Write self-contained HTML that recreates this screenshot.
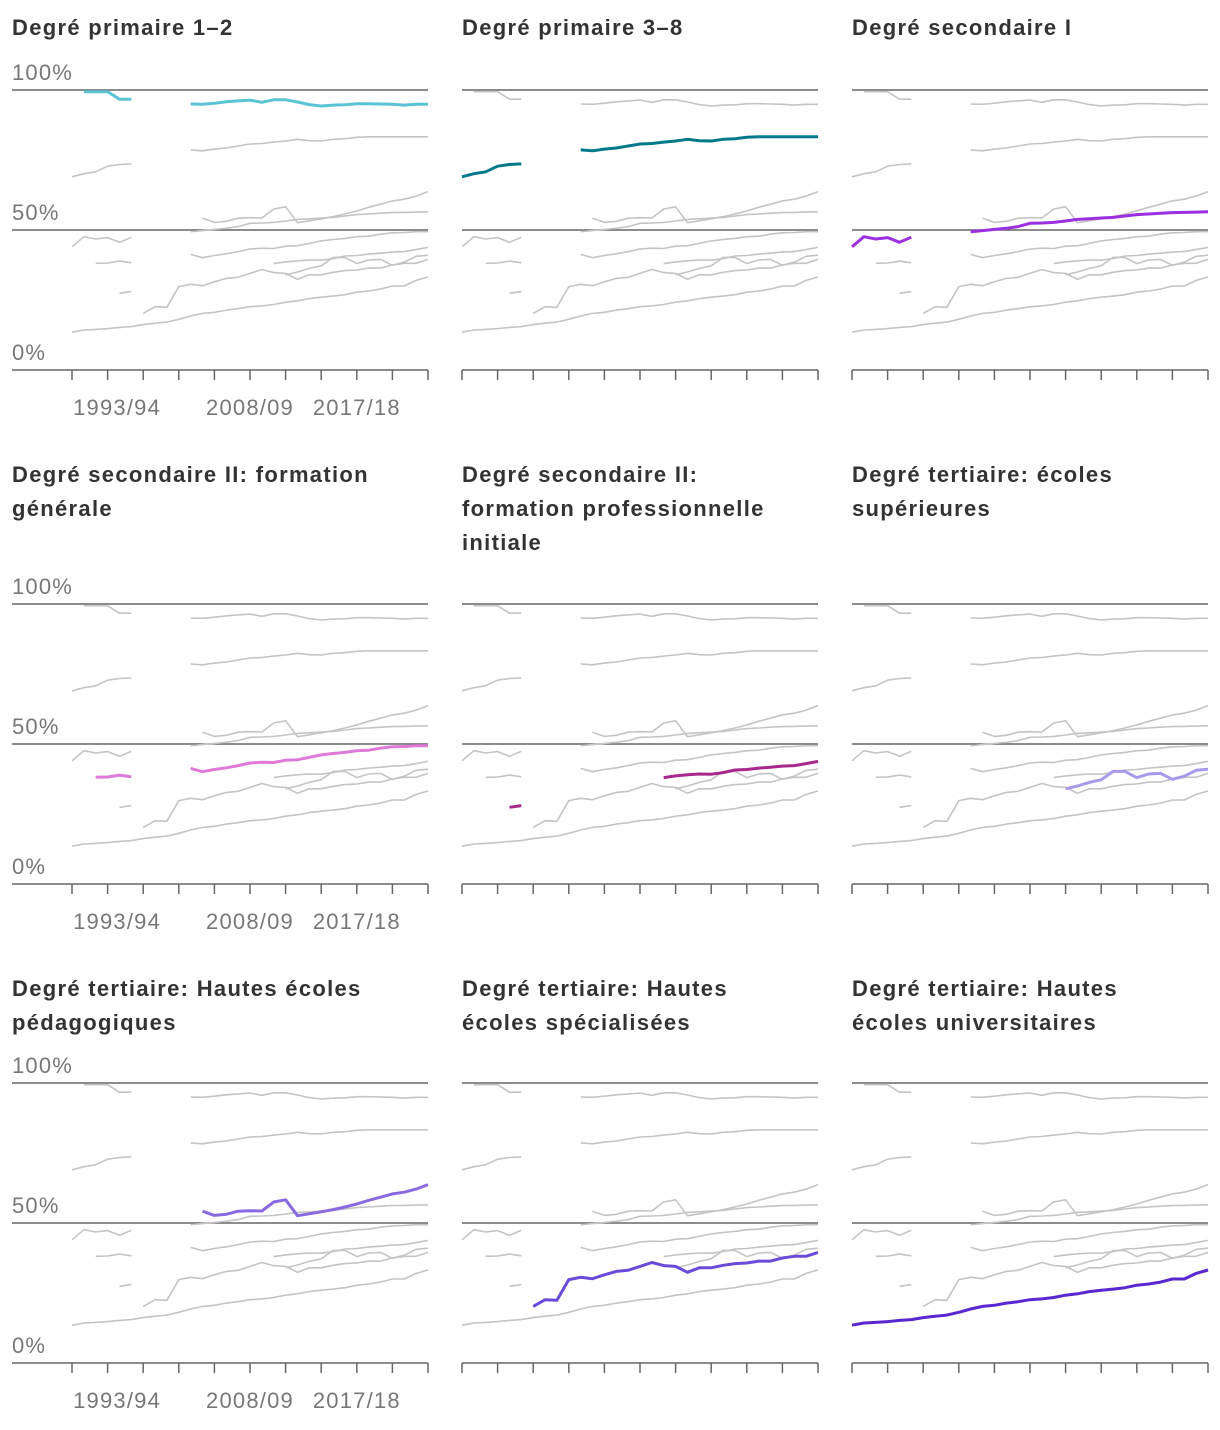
<!DOCTYPE html>
<html><head><meta charset="utf-8"><style>
body{margin:0;background:#fff;width:1220px;height:1430px;overflow:hidden}
svg{display:block}
.t{font-family:"Liberation Sans","DejaVu Sans",sans-serif;font-weight:bold;font-size:22px;letter-spacing:1.3px;fill:#333}
.l{font-family:"Liberation Sans","DejaVu Sans",sans-serif;font-size:22px;letter-spacing:1.2px;fill:#777}
</style></head><body>
<svg id="c" width="1220" height="1430"></svg>
<script>
const N = null;
const years = [1990,1991,1992,1993,1994,1995,1996,1997,1998,1999,2000,2001,2002,2003,2004,2005,2006,2007,2008,2009,2010,2011,2012,2013,2014,2015,2016,2017,2018,2019,2020];
const titles = [["Degré primaire 1–2"],["Degré primaire 3–8"],["Degré secondaire I"],
 ["Degré secondaire II: formation","générale"],["Degré secondaire II:","formation professionnelle","initiale"],["Degré tertiaire: écoles","supérieures"],
 ["Degré tertiaire: Hautes écoles","pédagogiques"],["Degré tertiaire: Hautes","écoles spécialisées"],["Degré tertiaire: Hautes","écoles universitaires"]];
const colors = ["#5bc4d4","#00798a","#9b30e0","#e07ad8","#a8288c","#a89ae8","#8a6ae0","#6a4ad8","#5a28d0"];
const s1 = [N,99.4,99.4,99.4,96.7,96.7,N,N,N,N,95.0,94.9,95.3,95.8,96.1,96.4,95.6,96.5,96.5,95.7,94.8,94.3,94.6,94.7,95.1,95.1,95.0,94.9,94.6,94.9,94.9];
const s2 = [69.0,70.1,70.8,72.8,73.4,73.6,N,N,N,N,78.6,78.3,78.9,79.3,80.0,80.7,80.9,81.4,81.8,82.4,81.9,81.8,82.4,82.6,83.1,83.3,83.3,83.3,83.3,83.3,83.3];
const s3 = [44.0,47.6,46.8,47.3,45.6,47.4,N,N,N,N,49.4,49.8,50.2,50.6,51.2,52.4,52.5,52.7,53.2,53.8,54.0,54.3,54.5,55.0,55.5,55.7,56.0,56.2,56.3,56.4,56.5];
const s4 = [N,N,38.1,38.2,38.9,38.3,N,N,N,N,41.3,40.1,40.9,41.5,42.3,43.2,43.5,43.4,44.2,44.4,45.2,46.1,46.6,47.0,47.6,47.8,48.5,49.0,49.1,49.4,49.4];
const s5 = [N,N,N,N,27.4,28.0,N,N,N,N,N,N,N,N,N,N,N,38.0,38.6,39.0,39.3,39.2,39.8,40.7,40.9,41.4,41.7,42.1,42.3,43.0,43.8];
const s6 = [N,N,N,N,N,N,N,N,N,N,N,N,N,N,N,N,N,N,34.0,35.0,36.3,37.2,40.2,40.2,38.0,39.3,39.5,37.4,38.5,40.6,41.0];
const s7 = [N,N,N,N,N,N,N,N,N,N,N,54.2,52.7,53.1,54.2,54.4,54.3,57.5,58.3,52.6,53.3,54.0,54.8,55.7,56.8,58.1,59.2,60.4,61.0,62.1,63.7];
const s8 = [N,N,N,N,N,N,20.2,22.6,22.4,29.8,30.6,30.1,31.5,32.7,33.1,34.5,35.9,34.8,34.5,32.4,34.0,34.0,34.9,35.5,35.7,36.4,36.4,37.5,38.1,38.1,39.5];
const s9 = [13.5,14.3,14.5,14.8,15.2,15.5,16.2,16.7,17.1,18.1,19.3,20.2,20.6,21.4,21.9,22.6,22.9,23.4,24.2,24.7,25.5,26.0,26.4,26.9,27.8,28.2,28.9,30.0,30.0,32.0,33.2];
const series = [s1,s2,s3,s4,s5,s6,s7,s8,s9];
const tickYears = [1990,1993,1996,1999,2002,2005,2008,2011,2014,2017,2020];
const xLabels = ["1993/94","2008/09","2017/18"];
const xLabelYears = [1993.8,2005,2014];
const yTicks = [0,50,100];

const svg = document.getElementById('c');
const NS = 'http://www.w3.org/2000/svg';
function mk(tag, attrs, parent){const e=document.createElementNS(NS,tag);for(const k in attrs)e.setAttribute(k,attrs[k]);(parent||svg).appendChild(e);return e;}
const colLeft=[72,462,852], rowTop=[90,604,1083], titleY=[[27],[474],[988]];
const W=356, H=280;
for(let p=0;p<9;p++){
  const c=p%3, r=Math.floor(p/3);
  const x0=colLeft[c], y0=rowTop[r];
  const xs=y=>x0+(y-years[0])/(years[years.length-1]-years[0])*W;
  const ys=v=>y0+H-v/100*H;
  const g=mk('g',{});
  
  
  titles[p].forEach((line,i)=>{
    const t=mk('text',{x:c===0?12:x0,y:titleY[r][0]+8+i*34,class:'t'},g);
    t.textContent=line;
    
    
  });
  const axL=c===0?12:x0;
  yTicks.forEach(v=>{
    if(v>0){
      const gl=mk('line',{x1:axL,x2:x0+W,y1:ys(v),y2:ys(v),stroke:'#666','stroke-width':1.5},g);
      
      
    }
    if(c===0){
      const t=mk('text',{x:12,y:ys(v)-10,class:'l'},g);
      t.textContent=v+'%';
      
      
    }
  });
  const ax=mk('line',{x1:axL,x2:x0+W,y1:y0+H,y2:y0+H,stroke:'#666','stroke-width':1.5},g);
  
  
  tickYears.forEach(ty=>{
    const tk=mk('line',{x1:xs(ty),x2:xs(ty),y1:y0+H,y2:y0+H+10,stroke:'#666','stroke-width':1.5},g);
    
    
  });
  if(c===0){
    xLabels.forEach((lb,i)=>{
      const t=mk('text',{x:xs(xLabelYears[i]),y:y0+H+45,class:'l','text-anchor':'middle'},g);
      t.textContent=lb;
      
      
    });
  }
  const draw=(arr,color,w,name)=>{
    let segs=[],cur=[];
    arr.forEach((v,i)=>{if(v===null){if(cur.length)segs.push(cur);cur=[];}else cur.push(xs(years[i]).toFixed(1)+','+ys(v).toFixed(1));});
    if(cur.length)segs.push(cur);
    const d=segs.map(s=>'M'+s.join('L')).join('');
    const pa=mk('path',{d:d,fill:'none',stroke:color,'stroke-width':w,'stroke-linejoin':'round'},g);
    
    
  };
  series.forEach((s,j)=>{if(j!==p)draw(s,'#c4c4c4',1.6,'context-line');});
  draw(series[p],colors[p],3,'highlight-line');
}
</script>
</body></html>
